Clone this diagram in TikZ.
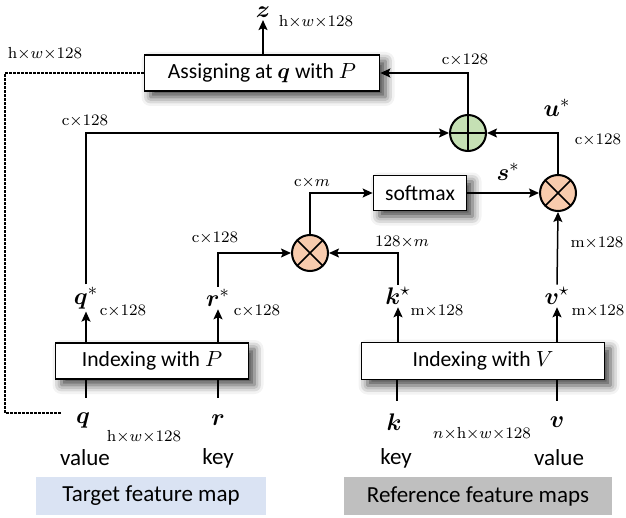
\documentclass[tikz,border=0pt]{standalone}
\usepackage[no-math]{fontspec}
\setmainfont{Carlito}
\usepackage{amsmath}
\usepackage{bm}
\usetikzlibrary{arrows.meta,shadows.blur}
\definecolor{plusgreen}{HTML}{C5E0B4}
\definecolor{mulorange}{HTML}{F8CBAD}
\definecolor{targetblue}{HTML}{DAE3F3}
\definecolor{refgray}{HTML}{BFBFBF}
\newcommand{\dimhw}{\mathrm{h}{\times}w{\times}128}
\begin{document}
\begin{tikzpicture}[x=0.5pt,y=-0.5pt,
  line width=0.75pt,
  >={Stealth[length=5pt,width=4.5pt,inset=1pt]},
  box/.style={draw, line width=0.85pt, fill=white,
    blur shadow={shadow xshift=3pt,shadow yshift=-3pt,shadow blur radius=4.5pt,shadow opacity=75},
    font=\fontsize{10.8}{12}\selectfont, inner sep=0pt},
  op/.style={circle, draw, line width=1pt, minimum size=18pt, inner sep=0pt},
  plusop/.style={op, fill=plusgreen, path picture={
      \draw[line width=0.8pt] (path picture bounding box.north) -- (path picture bounding box.south)
      (path picture bounding box.west) -- (path picture bounding box.east);}},
  mulop/.style={op, fill=mulorange, path picture={
      \draw[line width=0.8pt] (path picture bounding box.north east) -- (path picture bounding box.south west)
      (path picture bounding box.north west) -- (path picture bounding box.south east);}},
  dim/.style={font=\fontsize{8.5}{9}\selectfont, inner sep=1pt},
  var/.style={font=\fontsize{12.5}{14}\selectfont, inner sep=1pt},
  lbl/.style={font=\fontsize{11.5}{13}\selectfont, inner sep=1pt},
  dotline/.style={line width=1.4pt, dash pattern=on 1.1pt off 0.9pt},
]
\useasboundingbox (0,0) rectangle (626,518);

% boxes
\node[box, minimum width=117.5pt, minimum height=18pt] (assign) at (262,73) {Assigning at $\bm{q}$ with $P$};
\node[box, minimum width=46.5pt, minimum height=17.5pt] (soft) at (420,193) {softmax};
\node[box, minimum width=96.5pt, minimum height=18pt] (idxP) at (152,361) {Indexing with $P$};
\node[box, minimum width=121.5pt, minimum height=18.5pt] (idxV) at (483,361) {Indexing with $V$};
\node[lbl, fill=targetblue, minimum width=115pt, minimum height=19pt] (tgt) at (151,496) {Target feature map};
\node[lbl, fill=refgray, minimum width=134pt, minimum height=19pt] (reff) at (478,496) {Reference feature maps};

% operators
\node[plusop] (plus) at (468,133) {};
\node[mulop] (mulR) at (558,193) {};
\node[mulop] (mulL) at (310,253) {};

% variables
\node[var] (z) at (263,12) {$\bm{z}$};
\node[var] (qs) at (86,298) {$\bm{q}^{*}$};
\node[var] (rs) at (218,298) {$\bm{r}^{*}$};
\node[var] (ks) at (398,296) {$\bm{k}^{\star}$};
\node[var] (vs) at (557,296) {$\bm{v}^{\star}$};
\node[var] (q) at (83,420) {$\bm{q}$};
\node[var] (r) at (218,420) {$\bm{r}$};
\node[var] (k) at (394,422) {$\bm{k}$};
\node[var] (v) at (557,422) {$\bm{v}$};
\node[var] (s) at (508,172) {$\bm{s}^{*}$};
\node[var] (u) at (557,108) {$\bm{u}^{*}$};

% dimension labels
\node[dim] (d1) at (316,22) {$\dimhw$};
\node[dim] (d2) at (45,54) {$\dimhw$};
\node[dim] (d3) at (85,121) {$\mathrm{c}{\times}128$};
\node[dim] (d4) at (465,60) {$\mathrm{c}{\times}128$};
\node[dim] (d5) at (598,140) {$\mathrm{c}{\times}128$};
\node[dim] (d6) at (312,183) {$\mathrm{c}{\times}m$};
\node[dim] (d7) at (215,238) {$\mathrm{c}{\times}128$};
\node[dim] (d8) at (402,242) {$128{\times}m$};
\node[dim] (d9) at (597,243) {$\mathrm{m}{\times}128$};
\node[dim] (d10) at (123,311) {$\mathrm{c}{\times}128$};
\node[dim] (d11) at (257,311) {$\mathrm{c}{\times}128$};
\node[dim] (d12) at (437,311) {$\mathrm{m}{\times}128$};
\node[dim] (d13) at (598,311) {$\mathrm{m}{\times}128$};
\node[dim] (d14) at (144,437) {$\dimhw$};
\node[dim] (d15) at (482,434) {$n{\times}\dimhw$};

% role labels
\node[lbl] (val1) at (85,458) {value};
\node[lbl] (key1) at (218,458) {key};
\node[lbl] (key2) at (396,458) {key};
\node[lbl] (val2) at (559,458) {value};

% coordinates
\coordinate (qb) at (86,398);
\coordinate (rb) at (218,398);
\coordinate (kb) at (397,401);
\coordinate (vb) at (557,401);
\coordinate (dl) at (5,413);
\coordinate (de) at (62,413);

% connectors
\draw[->] (assign.north -| z) -- (z.south);
\draw[->] (plus.north) |- (assign.east);
\draw[->] (qs.north) |- (plus.west);
\draw[->] (mulR.north) |- (plus.east);
\draw[->] (mulL.north) |- (soft.west);
\draw[->] (soft.east) -- (mulR.west);
\draw[->] (rs.north) |- (mulL.west);
\draw[->] (ks.north) |- (mulL.east);
\draw[->] (vs.north) -- (mulR.south);
\draw[->] (idxP.north -| qs) -- (qs.south);
\draw[->] (idxP.north -| rs) -- (rs.south);
\draw[->] (idxV.north -| ks) -- (ks.south);
\draw[->] (idxV.north -| vs) -- (vs.south);
\draw (idxP.south -| qb) -- (qb);
\draw (idxP.south -| rb) -- (rb);
\draw (idxV.south -| kb) -- (kb);
\draw (idxV.south -| vb) -- (vb);
\draw[dotline] (assign.west) -| (dl) -- (de);
\end{tikzpicture}
\end{document}
